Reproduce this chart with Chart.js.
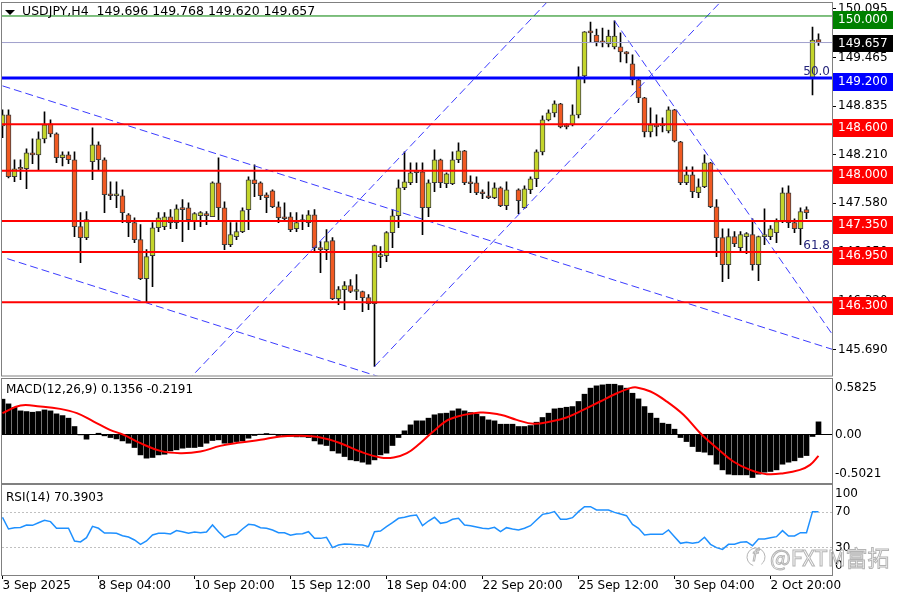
<!DOCTYPE html>
<html>
<head>
<meta charset="utf-8">
<script src="https://cdn.jsdelivr.net/npm/chart.js@4.4.1/dist/chart.umd.min.js"></script>
<style>
  html, body { margin:0; padding:0; background:#fff; }
  #wrap { position:relative; width:900px; height:600px; overflow:hidden; background:#fff; }
  canvas { position:absolute; left:0; display:block; }
</style>
</head>
<body>
<div id="wrap">
  <canvas id="cMain" width="900" height="378" style="top:0px"></canvas>
  <canvas id="cMacd" width="900" height="106" style="top:378px"></canvas>
  <canvas id="cRsi" width="900" height="116" style="top:484px"></canvas>
</div>
<script>
// ================= DATA =================
const symbol = 'USDJPY';
const timeframe = 'H4';

const opens = [148.580,148.722,147.922,148.026,148.026,148.232,148.206,148.413,148.606,148.477,
148.168,148.206,148.142,147.277,147.136,148.116,148.335,148.142,147.690,147.677,
147.677,147.432,147.329,147.110,146.606,146.903,147.264,147.277,147.406,147.329,
147.522,147.522,147.355,147.420,147.445,147.406,147.845,147.522,147.045,147.148,
147.213,147.497,147.884,147.845,147.690,147.742,147.535,147.406,147.406,147.251,
147.342,147.329,147.432,147.006,146.980,147.097,146.348,146.464,146.516,146.439,
146.439,146.361,146.283,146.890,146.903,147.200,147.419,147.780,147.845,147.974,
147.987,147.522,147.845,148.142,147.832,147.832,148.142,148.258,147.845,147.845,
147.729,147.664,147.651,147.780,147.548,null,147.755,147.522,147.755,147.897,
148.245,148.658,148.748,148.864,148.593,148.593,148.722,149.226,149.794,149.755,
149.664,149.639,149.600,149.600,149.535,149.381,149.174,148.942,148.503,148.593,
148.580,148.516,148.787,148.374,147.845,147.948,147.716,147.793,148.103,147.535,
147.136,146.787,147.148,147.006,147.148,147.174,146.787,147.148,147.148,147.200,
147.342,147.716,147.329,147.251,147.497,149.200,149.696];

const highs = [148.787,148.787,148.142,148.142,148.284,148.413,148.503,148.761,148.658,148.490,
148.245,148.245,148.245,147.458,147.471,148.555,148.374,148.168,147.858,147.858,
147.755,147.445,147.393,147.303,146.980,147.329,147.458,147.458,147.497,147.561,
147.626,147.587,147.458,147.471,147.471,147.858,148.168,147.600,147.329,147.329,
147.522,147.922,148.077,147.858,147.716,147.755,147.600,147.587,147.458,147.458,
147.432,147.484,147.497,147.084,147.239,147.136,146.503,146.567,146.593,146.658,
146.445,146.400,147.040,147.019,147.213,147.497,147.884,148.245,148.103,148.103,
148.103,147.884,148.271,148.150,147.974,148.245,148.361,148.265,147.935,147.922,
147.755,147.858,147.845,147.793,147.858,null,147.767,147.806,147.922,148.271,
148.710,148.787,148.903,148.870,148.606,148.851,149.342,149.800,149.923,149.832,
149.845,149.819,149.936,149.781,149.540,149.497,149.180,148.950,148.813,148.722,
148.684,148.826,148.794,148.380,148.051,148.051,147.897,148.206,148.110,147.626,
147.251,147.251,147.213,147.213,147.200,147.380,147.155,147.509,147.290,147.380,
147.780,147.806,147.380,147.522,147.535,149.858,149.768];

const lows = [148.426,147.909,147.858,147.884,147.767,148.090,148.000,148.361,148.438,148.103,
148.064,148.090,147.148,146.812,147.110,147.884,148.013,147.458,147.626,147.522,
147.329,147.148,147.071,146.593,146.309,146.503,147.213,147.239,147.251,147.251,
147.084,147.239,147.239,147.277,147.303,147.406,147.342,146.980,147.019,147.110,
147.200,147.239,147.664,147.626,147.458,147.522,147.329,147.342,147.213,147.213,
147.239,147.277,146.955,146.684,146.851,146.335,146.270,146.206,146.426,146.335,
146.180,146.206,145.470,146.748,146.825,147.006,147.264,147.755,147.819,147.845,
147.174,147.406,147.729,147.780,147.780,147.819,148.103,147.819,147.716,147.690,
147.638,147.638,147.638,147.535,147.497,null,147.445,147.509,147.703,147.793,
148.206,148.645,148.697,148.555,148.542,148.580,148.684,149.135,149.664,149.613,
149.600,149.600,149.574,149.406,149.394,149.110,148.880,148.438,148.438,148.451,
148.503,148.490,148.374,147.819,147.819,147.651,147.651,147.780,147.522,146.890,
146.567,146.606,147.019,146.955,146.929,146.716,146.580,147.045,147.110,147.071,
147.329,147.264,147.200,147.045,147.380,148.980,149.620];

const closes = [148.722,147.922,148.026,148.020,148.232,148.206,148.413,148.593,148.477,148.168,
148.206,148.142,147.277,147.136,147.368,148.335,148.142,147.690,147.677,147.690,
147.458,147.329,147.110,146.606,146.890,147.264,147.393,147.406,147.329,147.509,
147.497,147.368,147.445,147.458,147.420,147.845,147.522,147.045,147.174,147.213,
147.484,147.884,147.832,147.677,147.651,147.535,147.393,147.380,147.239,147.329,
147.350,147.432,147.006,146.980,147.084,146.348,146.464,146.516,146.439,146.445,
146.361,146.283,147.032,146.900,147.200,147.419,147.780,147.858,147.974,147.980,
147.522,147.845,148.142,147.845,147.961,148.142,148.258,147.845,147.832,147.716,
147.703,147.651,147.780,147.548,147.755,null,147.613,147.767,147.897,148.245,
148.658,148.748,148.864,148.568,148.568,148.722,149.213,149.794,149.781,149.664,
149.652,149.742,149.742,149.535,149.510,149.174,148.942,148.503,148.593,148.568,
148.585,148.787,148.387,147.845,147.948,147.729,147.793,148.103,147.535,147.136,
146.787,147.148,147.058,147.174,147.187,146.787,147.148,147.155,147.251,147.342,
147.716,147.329,147.251,147.471,147.458,149.690,149.657];

const timeTickBars = [0,16,32,48,64,80,96,112,128];
const timeLabels = ['3 Sep 2025','8 Sep 04:00','10 Sep 20:00','15 Sep 12:00','18 Sep 04:00',
  '22 Sep 20:00','25 Sep 12:00','30 Sep 04:00','2 Oct 20:00'];

const priceTicks = [150.095,149.465,148.835,148.210,147.580,146.950,146.320,145.690];
const levelPrices = [150.000,149.200,148.600,148.000,147.350,146.950,146.300];
const bidPrice = 149.657;
const fibLevels = [149.200,146.950];
const fibLabels = ['50.0','61.8'];
// trend lines: [startBar, startPrice, endBar, endPrice]
const trendLines = [
  [0,149.097,139,145.675],
  [0.8,146.864,70,145.160],
  [62,145.470,120,150.208],
  [28,145.053,92,150.281],
  [102,149.939,139,145.808]
];

const macdHist = [0.372,0.323,0.286,0.250,0.243,0.236,0.243,0.260,0.250,0.219,
0.201,0.174,0.087,0.000,-0.045,0.003,0.017,-0.010,-0.028,-0.042,
-0.063,-0.087,-0.132,-0.209,-0.243,-0.236,-0.209,-0.202,-0.167,-0.156,
-0.139,-0.132,-0.132,-0.122,-0.087,-0.059,-0.052,-0.087,-0.087,-0.070,
-0.063,-0.035,-0.007,0.007,0.014,0.007,-0.007,-0.007,-0.014,-0.021,
-0.021,-0.028,-0.063,-0.097,-0.111,-0.167,-0.191,-0.226,-0.261,-0.271,
-0.285,-0.306,-0.261,-0.209,-0.191,-0.111,-0.028,0.042,0.104,0.146,
0.146,0.174,0.209,0.222,0.226,0.250,0.271,0.250,0.233,0.216,
0.191,0.156,0.146,0.111,0.111,0.111,0.087,0.087,0.097,0.132,
0.181,0.226,0.271,0.278,0.288,0.295,0.348,0.424,0.487,0.511,
0.521,0.528,0.528,0.514,0.487,0.434,0.375,0.295,0.226,0.174,
0.122,0.111,0.059,-0.028,-0.070,-0.122,-0.174,-0.181,-0.209,-0.306,
-0.365,-0.410,-0.417,-0.417,-0.417,-0.445,-0.410,-0.389,-0.382,-0.365,
-0.306,-0.285,-0.271,-0.236,-0.216,-0.017,0.1356];

const signalBars = [0,3,6.3,9.6,12.4,15.2,17.9,20.2,23,26.3,29.6,33,36.3,39.6,43,46.3,49.6,53,56.3,59.6,
  63,65.2,67.4,69.6,71.8,74.6,79.6,83,85.7,88.5,91.3,94,96.8,99.6,102.4,104.6,105.7,108,110.7,113.5,
  116.3,119.1,121.8,124.6,127.4,130.2,132.9,134.6,136];
const signalValues = [0.226,0.306,0.295,0.271,0.226,0.139,0.052,0.000,-0.087,-0.167,-0.191,-0.174,-0.115,-0.080,-0.052,-0.017,-0.010,-0.028,-0.087,-0.174,
  -0.236,-0.236,-0.191,-0.087,0.035,0.165,0.233,0.209,0.156,0.115,0.139,0.181,0.261,0.348,0.434,0.487,0.494,0.452,0.348,0.209,
  0.017,-0.139,-0.278,-0.365,-0.410,-0.400,-0.365,-0.313,-0.2191];

const rsiValues = [64.1,51.1,52.6,52.9,55.6,55.2,58.1,60.7,59.3,51.9,
51.9,51.9,37.8,36.7,41.5,54.1,51.9,46.7,46.7,46.3,
43.7,42.2,38.9,34.1,37.8,44.4,46.3,46.3,45.6,49.3,
48.1,46.3,47.8,47.0,47.8,55.6,48.1,41.5,44.4,45.2,
51.1,56.3,55.6,52.6,51.9,50.0,47.0,47.0,44.1,45.6,
45.9,48.1,40.7,40.7,41.9,30.4,33.3,34.4,34.1,33.7,
33.3,31.5,48.1,48.9,53.7,58.1,63.0,64.1,65.9,66.7,
54.8,60.0,64.1,57.4,58.5,61.9,63.0,55.6,54.8,53.3,
51.9,51.5,52.9,48.1,52.6,51.1,50.0,51.9,54.8,61.1,
67.4,68.5,70.4,61.9,61.9,63.7,70.4,75.9,75.9,72.2,
72.2,72.2,69.6,67.8,65.9,56.3,51.9,44.4,45.2,45.2,
45.2,50.0,42.6,35.2,36.3,35.2,36.3,41.9,34.1,30.4,
28.5,34.1,34.1,36.3,37.0,32.6,40.0,40.0,41.5,42.6,
49.3,43.3,43.3,47.0,47.0,70.4,70.3903];

const macdTopLabel = 0.5825, macdBottomLabel = -0.5021;
const macdMidTicks = [0];
const rsiTopLabel = 100, rsiBottomLabel = 0;
const rsiMidTicks = [70, 30];

// ================= STYLE =================
const FONT = 'DejaVu Sans';
const BULL = '#c3d52b', BEAR = '#f05a22';
const levelColors = ['#008000','#0000ff','#ff0000','#ff0000','#ff0000','#ff0000','#ff0000'];
const levelWidths = [1,3,2,2,2,2,2];
const X_MIN = -0.0833, X_MAX = 138.25;

const framePlugin = {
  id: 'frame',
  afterDraw(chart) {
    const {ctx, chartArea: a} = chart;
    ctx.save();
    ctx.strokeStyle = '#808080';
    ctx.lineWidth = 1;
    ctx.strokeRect(a.left - 0.5, a.top - 0.5, a.right - a.left + 1, a.bottom - a.top + 1);
    ctx.restore();
  }
};

function xScale(display) {
  return {
    type: 'linear', min: X_MIN, max: X_MAX, offset: false, display: display,
    afterFit(s) { if (display) s.height = 25; },
    afterBuildTicks(s) { s.ticks = timeTickBars.map(v => ({value: v})); },
    ticks: {
      autoSkip: false, maxRotation: 0, align: 'start', padding: 0, color: '#000',
      font: {family: FONT, size: 12},
      callback: (v) => { const k = timeTickBars.indexOf(v); return k >= 0 ? timeLabels[k] : ''; }
    },
    grid: {drawOnChartArea: false, drawTicks: true, tickLength: 4, color: '#000', offset: false},
    border: {display: false}
  };
}

const common = {
  responsive: false, animation: false, events: [],
  plugins: {legend: {display: false}, tooltip: {enabled: false}}
};

function edgeLabels(chart, top, bottom) {
  const {ctx} = chart; const y = chart.scales.y;
  ctx.save();
  ctx.fillStyle = '#000'; ctx.font = '12px "' + FONT + '"';
  ctx.textAlign = 'left'; ctx.textBaseline = 'middle';
  ctx.fillText(top[1], 835, y.getPixelForValue(top[0]) + 9);
  ctx.fillText(bottom[1], 835, y.getPixelForValue(bottom[0]) - 9);
  ctx.restore();
}

// ================= MAIN CHART =================
const wickData = [], bodyData = [], bodyColors = [];
opens.forEach((o, i) => {
  if (o == null) return;
  wickData.push({x: i, y: [lows[i], highs[i]]});
  bodyData.push({x: i, y: [o, closes[i]]});
  bodyColors.push(closes[i] >= o ? BULL : BEAR);
});

const mainDatasets = [
  {type: 'bar', data: wickData, backgroundColor: '#000', barThickness: 1, grouped: false, order: 30},
  {type: 'bar', data: bodyData, backgroundColor: bodyColors, borderColor: '#404040', borderWidth: 1,
   borderSkipped: false, barThickness: 5, minBarLength: 2, grouped: false, order: 29}
];
trendLines.forEach(t => mainDatasets.push({
  type: 'line', data: [{x: t[0], y: t[1]}, {x: t[2], y: t[3]}], borderColor: '#3c3cff', borderWidth: 1,
  borderDash: [8, 4], pointRadius: 0, tension: 0, order: 10
}));
mainDatasets.push({
  type: 'line', data: [{x: X_MIN, y: bidPrice}, {x: X_MAX, y: bidPrice}], borderColor: '#a0a0cc',
  borderWidth: 1, pointRadius: 0, order: 6
});
levelPrices.forEach((p, k) => mainDatasets.push({
  type: 'line', data: [{x: X_MIN, y: p}, {x: X_MAX, y: p}], borderColor: levelColors[k],
  borderWidth: levelWidths[k], pointRadius: 0, order: 5
}));

const mainDecor = {
  id: 'mainDecor',
  afterDraw(chart) {
    const {ctx} = chart; const y = chart.scales.y;
    ctx.save();
    ctx.font = '12px "' + FONT + '"';
    ctx.fillStyle = '#24247a'; ctx.textAlign = 'right'; ctx.textBaseline = 'alphabetic';
    fibLevels.forEach((p, k) => ctx.fillText(fibLabels[k], 830, y.getPixelForValue(p) - 3));
    ctx.textAlign = 'left'; ctx.textBaseline = 'middle';
    levelPrices.forEach((p, k) => {
      const py = Math.round(y.getPixelForValue(p));
      ctx.fillStyle = levelColors[k]; ctx.fillRect(833, py - 5, 60, 18);
      ctx.fillStyle = '#fff'; ctx.fillText(p.toFixed(3), 838, py + 4);
    });
    const by = Math.round(y.getPixelForValue(bidPrice));
    ctx.fillStyle = '#000'; ctx.fillRect(833, by - 8, 60, 17);
    ctx.fillStyle = '#fff'; ctx.fillText(bidPrice.toFixed(3), 838, by + 1);
    const n = opens.length - 1;
    ctx.fillStyle = '#000';
    ctx.beginPath(); ctx.moveTo(5, 10); ctx.lineTo(15, 10); ctx.lineTo(10, 15); ctx.closePath(); ctx.fill();
    ctx.font = '12.5px "' + FONT + '"';
    ctx.fillText(symbol + ',' + timeframe + '  ' + opens[n].toFixed(3) + ' ' + highs[n].toFixed(3) + ' ' +
      lows[n].toFixed(3) + ' ' + closes[n].toFixed(3), 22, 12);
    ctx.restore();
  }
};

new Chart(document.getElementById('cMain'), {
  type: 'bar',
  data: {datasets: mainDatasets},
  options: Object.assign({}, common, {
    layout: {padding: {left: 2, right: 0, top: 3, bottom: 2}, autoPadding: false},
    scales: {
      x: xScale(false),
      y: {
        position: 'right', min: 145.354, max: 150.168,
        afterFit(s) { s.width = 68; },
        afterBuildTicks(s) { s.ticks = priceTicks.map(v => ({value: v})); },
        ticks: {autoSkip: false, padding: 2, color: '#000', font: {family: FONT, size: 12, lineHeight: '1px'},
          callback: (v) => Number(v).toFixed(3)},
        grid: {drawOnChartArea: false, drawTicks: true, tickLength: 4, color: '#000'},
        border: {display: false}
      }
    }
  }),
  plugins: [framePlugin, mainDecor]
});

// ================= MACD =================
const macdDecor = {
  id: 'macdDecor',
  afterDraw(chart) {
    const {ctx} = chart;
    ctx.save();
    ctx.fillStyle = '#000'; ctx.font = '12px "' + FONT + '"';
    ctx.textAlign = 'left'; ctx.textBaseline = 'middle';
    ctx.fillText('MACD(12,26,9) ' + macdHist[macdHist.length - 1].toFixed(4) + ' ' +
      signalValues[signalValues.length - 1].toFixed(4), 6, 12);
    ctx.restore();
    edgeLabels(chart, [macdTopLabel, macdTopLabel.toFixed(4)], [macdBottomLabel, macdBottomLabel.toFixed(4)]);
  }
};

new Chart(document.getElementById('cMacd'), {
  type: 'bar',
  data: {datasets: [
    {type: 'line', data: signalBars.map((b, k) => ({x: b, y: signalValues[k]})), borderColor: '#ff0000',
     borderWidth: 2, pointRadius: 0, tension: 0.4, order: 1},
    {type: 'bar', data: macdHist.map((v, i) => ({x: i, y: v})), backgroundColor: '#000',
     barThickness: 5, grouped: false, order: 2}
  ]},
  options: Object.assign({}, common, {
    layout: {padding: {left: 2, right: 0, top: 1, bottom: 1}, autoPadding: false},
    scales: {
      x: xScale(false),
      y: {
        position: 'right', min: macdBottomLabel, max: macdTopLabel,
        afterFit(s) { s.width = 68; },
        afterBuildTicks(s) { s.ticks = macdMidTicks.map(v => ({value: v})); },
        ticks: {autoSkip: false, padding: 0, color: '#000', font: {family: FONT, size: 12, lineHeight: '1px'},
          callback: (v) => v.toFixed(2)},
        grid: {drawTicks: true, tickLength: 3, tickColor: 'rgba(0,0,0,0)', color: '#000', lineWidth: 1},
        border: {display: false}
      }
    }
  }),
  plugins: [framePlugin, macdDecor]
});

// ================= RSI =================
const rsiDecor = {
  id: 'rsiDecor',
  afterDraw(chart) {
    const {ctx} = chart;
    ctx.save();
    ctx.fillStyle = '#000'; ctx.font = '12px "' + FONT + '"';
    ctx.textAlign = 'left'; ctx.textBaseline = 'middle';
    ctx.fillText('RSI(14) ' + rsiValues[rsiValues.length - 1].toFixed(4), 6, 14);
    ctx.restore();
    edgeLabels(chart, [rsiTopLabel, String(rsiTopLabel)], [rsiBottomLabel, String(rsiBottomLabel)]);
    ctx.save();
    ctx.strokeStyle = '#b4b4b4'; ctx.lineWidth = 1;
    ctx.beginPath(); ctx.arc(756, 73, 9, Math.PI * 0.6, Math.PI * 2.3); ctx.stroke();
    ctx.font = 'italic 16px "' + FONT + '"'; ctx.textBaseline = 'middle'; ctx.strokeText('f', 752, 73);
    ctx.font = '22px "Noto Sans CJK SC"'; ctx.textBaseline = 'alphabetic';
    ctx.strokeText('@FXTM富拓', 770, 82);
    ctx.restore();
  }
};

new Chart(document.getElementById('cRsi'), {
  type: 'line',
  data: {datasets: [
    {data: rsiValues.map((v, i) => ({x: i, y: v})), borderColor: '#1e90ff', borderWidth: 1.5,
     pointRadius: 0, tension: 0}
  ]},
  options: Object.assign({}, common, {
    layout: {padding: {left: 2, right: 0, top: 1, bottom: 0}, autoPadding: false},
    scales: {
      x: xScale(true),
      y: {
        position: 'right', min: rsiBottomLabel, max: rsiTopLabel,
        afterFit(s) { s.width = 68; },
        afterBuildTicks(s) { s.ticks = rsiMidTicks.map(v => ({value: v})); },
        ticks: {autoSkip: false, padding: 0, color: '#000', font: {family: FONT, size: 12, lineHeight: '1px'},
          callback: (v) => String(v)},
        grid: {drawTicks: true, tickLength: 3, tickColor: 'rgba(0,0,0,0)', color: '#c0c0c0', lineWidth: 1},
        border: {display: false, dash: [2, 2]}
      }
    }
  }),
  plugins: [framePlugin, rsiDecor]
});
</script>
</body>
</html>
